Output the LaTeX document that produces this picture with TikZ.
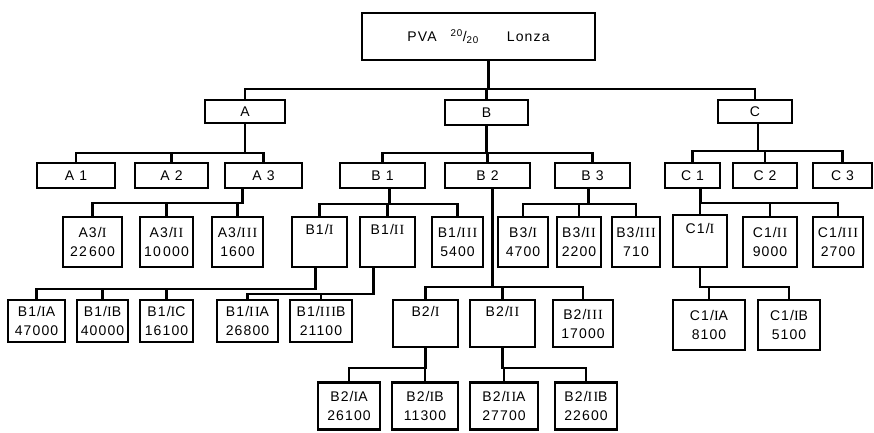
\documentclass[tikz,border=0pt]{standalone}
\usepackage{fontspec}
\setmainfont{Liberation Sans}[LetterSpace=8]
\newfontfamily\romfont{Liberation Serif}[LetterSpace=8]
\newcommand\rn[1]{{\romfont #1}}
\begin{document}
\begin{tikzpicture}[x=1pt, y=-1pt, inner sep=1pt,
      font=\fontsize{14}{19}\selectfont,
      box/.style={draw, line width=2.6pt, align=center},
      link/.style={line width=2.3pt}]
   \useasboundingbox (0,0) rectangle (874,432);
   % top
   \node[box, minimum width=233, minimum height=47] (root) at (478.5,36.5) {PVA\quad\textsuperscript{20}/\textsubscript{20}\qquad Lonza};
   \node[box, minimum width=80, minimum height=23] (A) at (245,111.5) {A};
   \node[box, minimum width=83, minimum height=25] (B) at (486.5,112.5) {B};
   \node[box, minimum width=74, minimum height=23] (C) at (755,111.5) {C};
   \foreach \k in {A,B,C}
      \draw[link] ([xshift=10]root.south) -- ++(0,28) -| (\k.north);
   % second row
   \node[box, minimum width=78, minimum height=25] (A1) at (76,175.5) {A 1};
   \node[box, minimum width=73, minimum height=25] (A2) at (171.5,175.5) {A 2};
   \node[box, minimum width=77, minimum height=25] (A3) at (263.5,175.5) {A 3};
   \node[box, minimum width=85, minimum height=25] (B1) at (382.5,175.5) {B 1};
   \node[box, minimum width=85, minimum height=25] (B2) at (487.5,175.5) {B 2};
   \node[box, minimum width=75, minimum height=25] (B3) at (592.5,175.5) {B 3};
   \node[box, minimum width=55, minimum height=25] (C1) at (692.5,175.5) {C 1};
   \node[box, minimum width=64, minimum height=25] (C2) at (765,175.5) {C 2};
   \node[box, minimum width=59, minimum height=25] (C3) at (842.5,175.5) {C 3};
   \foreach \k in {A1,A2,A3}
      \draw[link] (A.south) -- ++(0,29) -| (\k.north);
   \foreach \k in {B1,B2,B3}
      \draw[link] (B.south) -- ++(0,27) -| (\k.north);
   \foreach \k in {C1,C2,C3}
      \draw[link] ([xshift=3]C.south) -- ++(0,27) -| (\k.north);
   % third row
   \node[box, minimum width=59, minimum height=50] (A3i) at (92.5,242) {A3/\rn{I}\\22\,600};
   \node[box, minimum width=53, minimum height=50] (A3ii) at (166.5,242) {A3/\rn{II}\\10\,000};
   \node[box, minimum width=51, minimum height=50] (A3iii) at (237.5,242) {A3/\rn{III}\\1600};
   \node[box, minimum width=55, minimum height=50] (B1i) at (319.5,242) {B1/\rn{I}\\\strut};
   \node[box, minimum width=55, minimum height=50] (B1ii) at (387.5,242) {B1/\rn{II}\\\strut};
   \node[box, minimum width=51, minimum height=50] (B1iii) at (457.5,242) {B1/\rn{III}\\5400};
   \node[box, minimum width=50, minimum height=50] (B3i) at (523,242) {B3/\rn{I}\\4700};
   \node[box, minimum width=44, minimum height=50] (B3ii) at (579,242) {B3/\rn{II}\\2200};
   \node[box, minimum width=48, minimum height=50] (B3iii) at (636,242) {B3/\rn{III}\\710};
   \node[box, minimum width=54, minimum height=52] (C1i) at (700,241) {C1/\rn{I}\\\strut};
   \node[box, minimum width=54, minimum height=50] (C1ii) at (770,242) {C1/\rn{II}\\9000};
   \node[box, minimum width=50, minimum height=50] (C1iii) at (838,242) {C1/\rn{III}\\2700};
   \foreach \k in {A3i,A3ii,A3iii}
      \draw[link] ([xshift=-21]A3.south) -- ++(0,14) -| (\k.north);
   \foreach \k in {B1i,B1ii,B1iii}
      \draw[link] ([xshift=7]B1.south) -- ++(0,15) -| (\k.north);
   \foreach \k in {B3i,B3ii,B3iii}
      \draw[link] ([xshift=-4]B3.south) -- ++(0,15) -| (\k.north);
   \foreach \k in {C1i,C1ii,C1iii}
      \draw[link] ([xshift=8]C1.south) -- ++(0,14) -| (\k.north);
   % fourth row
   \node[box, minimum width=57, minimum height=42] (B1ia) at (36.5,321) {B1/\rn{I}A\\47000};
   \node[box, minimum width=51, minimum height=42] (B1ib) at (102.5,321) {B1/\rn{I}B\\40000};
   \node[box, minimum width=53, minimum height=42] (B1ic) at (166.5,321) {B1/\rn{I}C\\16100};
   \node[box, minimum width=61, minimum height=42] (B1iia) at (247.5,321) {B1/\rn{II}A\\26800};
   \node[box, minimum width=62, minimum height=42] (B1iiib) at (321,321) {B1/\rn{III}B\\21100};
   \node[box, minimum width=65, minimum height=47] (B2i) at (425.5,323.5) {B2/\rn{I}\\\strut};
   \node[box, minimum width=65, minimum height=47] (B2ii) at (502.5,323.5) {B2/\rn{II}\\\strut};
   \node[box, minimum width=60, minimum height=47] (B2iii) at (583,323.5) {B2/\rn{III}\\17000};
   \node[box, minimum width=72, minimum height=50] (C1ia) at (709,325) {C1/\rn{I}A\\8100};
   \node[box, minimum width=62, minimum height=50] (C1ib) at (789,325) {C1/\rn{I}B\\5100};
   \foreach \k in {B1ia,B1ib,B1ic}
      \draw[link] ([xshift=-4]B1i.south) -- ++(0,21) -| (\k.north);
   \foreach \k in {B1iia,B1iiib}
      \draw[link] ([xshift=-14]B1ii.south) -- ++(0,26) -| (\k.north);
   \foreach \k in {B2i,B2ii,B2iii}
      \draw[link] ([xshift=5]B2.south) -- ++(0,98) -| (\k.north);
   \foreach \k in {C1ia,C1ib}
      \draw[link] (C1i.south) -- ++(0,19) -| (\k.north);
   % bottom row
   \node[box, minimum width=62, minimum height=47] (B2ia) at (349,406) {B2/\rn{I}A\\26100};
   \node[box, minimum width=66, minimum height=47] (B2ib) at (425,406) {B2/\rn{I}B\\11300};
   \node[box, minimum width=68, minimum height=47] (B2iia) at (504,406) {B2/\rn{II}A\\27700};
   \node[box, minimum width=62, minimum height=47] (B2iib) at (586,406) {B2/\rn{II}B\\22600};
   \foreach \k in {B2ia,B2ib}
      \draw[link] (B2i.south) -- ++(0,20) -| (\k.north);
   \foreach \k in {B2iia,B2iib}
      \draw[link] (B2ii.south) -- ++(0,20) -| (\k.north);
\end{tikzpicture}
\end{document}
